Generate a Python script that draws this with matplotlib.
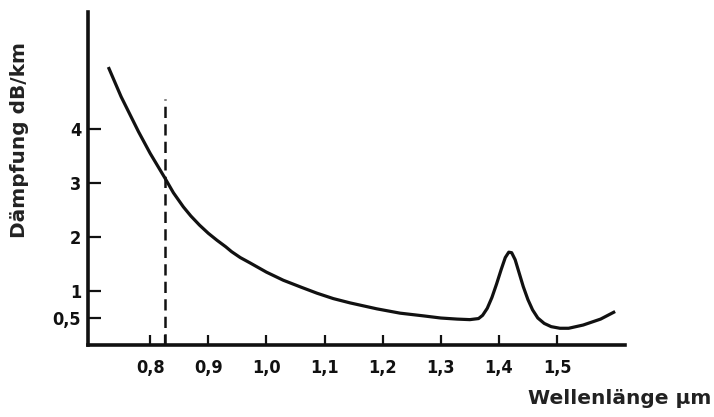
import matplotlib
matplotlib.use("Agg")
import matplotlib.pyplot as plt

# Data
wavelength = [0.728, 0.750, 0.780, 0.800, 0.825, 0.840, 0.857, 0.870, 0.885, 0.900,
              0.915, 0.930, 0.940, 0.955, 0.972, 1.000, 1.029, 1.060, 1.087, 1.115,
              1.144, 1.190, 1.230, 1.270, 1.300, 1.328, 1.350, 1.365, 1.372, 1.380,
              1.388, 1.396, 1.404, 1.411, 1.417, 1.422, 1.428, 1.435, 1.442, 1.450,
              1.458, 1.467, 1.478, 1.490, 1.505, 1.520, 1.545, 1.575, 1.600]
attenuation = [5.15, 4.60, 3.95, 3.55, 3.10, 2.82, 2.56, 2.39, 2.22, 2.07,
               1.94, 1.82, 1.73, 1.62, 1.52, 1.35, 1.20, 1.07, 0.96, 0.86,
               0.78, 0.67, 0.59, 0.54, 0.50, 0.48, 0.47, 0.49, 0.55, 0.68,
               0.88, 1.13, 1.40, 1.62, 1.72, 1.71, 1.58, 1.33, 1.08, 0.84,
               0.65, 0.50, 0.40, 0.34, 0.31, 0.31, 0.37, 0.48, 0.62]
marker_wavelength = 0.825
marker_top = 4.55

x_ticks = [0.8, 0.9, 1.0, 1.1, 1.2, 1.3, 1.4, 1.5]
x_ticklabels = ["0,8", "0,9", "1,0", "1,1", "1,2", "1,3", "1,4", "1,5"]
y_ticks = [0.5, 1, 2, 3, 4]
y_ticklabels = ["0,5", "1", "2", "3", "4"]

W, H = 714, 417
fig = plt.figure(figsize=(W / 100, H / 100), dpi=100)
left, right, bottom, top = 88, 625, 345, 12
ax = fig.add_axes([left / W, (H - bottom) / H, (right - left) / W, (bottom - top) / H])

ax.plot(wavelength, attenuation, color="#111111", lw=2.3,
        solid_capstyle="butt", solid_joinstyle="round")
ax.plot([marker_wavelength, marker_wavelength], [0, marker_top], color="#111111",
        lw=1.8, dashes=(4.5, 2.5))

ax.set_xlim(0.693, 1.617)
ax.set_ylim(0, 6.17)

for s in ["top", "right"]:
    ax.spines[s].set_visible(False)
for s in ["left", "bottom"]:
    ax.spines[s].set_linewidth(2.6)
    ax.spines[s].set_color("#111111")

tick_font = dict(family="DejaVu Sans", stretch="condensed", weight="bold", size=13)
ax.set_xticks(x_ticks + [marker_wavelength])
ax.set_xticklabels(x_ticklabels + [""], **tick_font)
ax.set_yticks(y_ticks)
ax.set_yticklabels(y_ticklabels, **tick_font)
ax.tick_params(axis="x", direction="in", length=7, width=1.6, pad=10, colors="#111111")
ax.tick_params(axis="y", direction="in", length=9, width=1.6, pad=5, colors="#111111")

fig.text(20 / W, 1 - 140 / H, "Dämpfung dB/km", rotation=90, ha="center", va="center",
         family="DejaVu Sans", weight="bold", size=14.5, color="#222222")
fig.text(711 / W, 1 - 399 / H, "Wellenlänge µm", ha="right", va="center",
         family="DejaVu Sans", weight="bold", size=14.5, color="#222222")

fig.savefig("out.png", dpi=100)
